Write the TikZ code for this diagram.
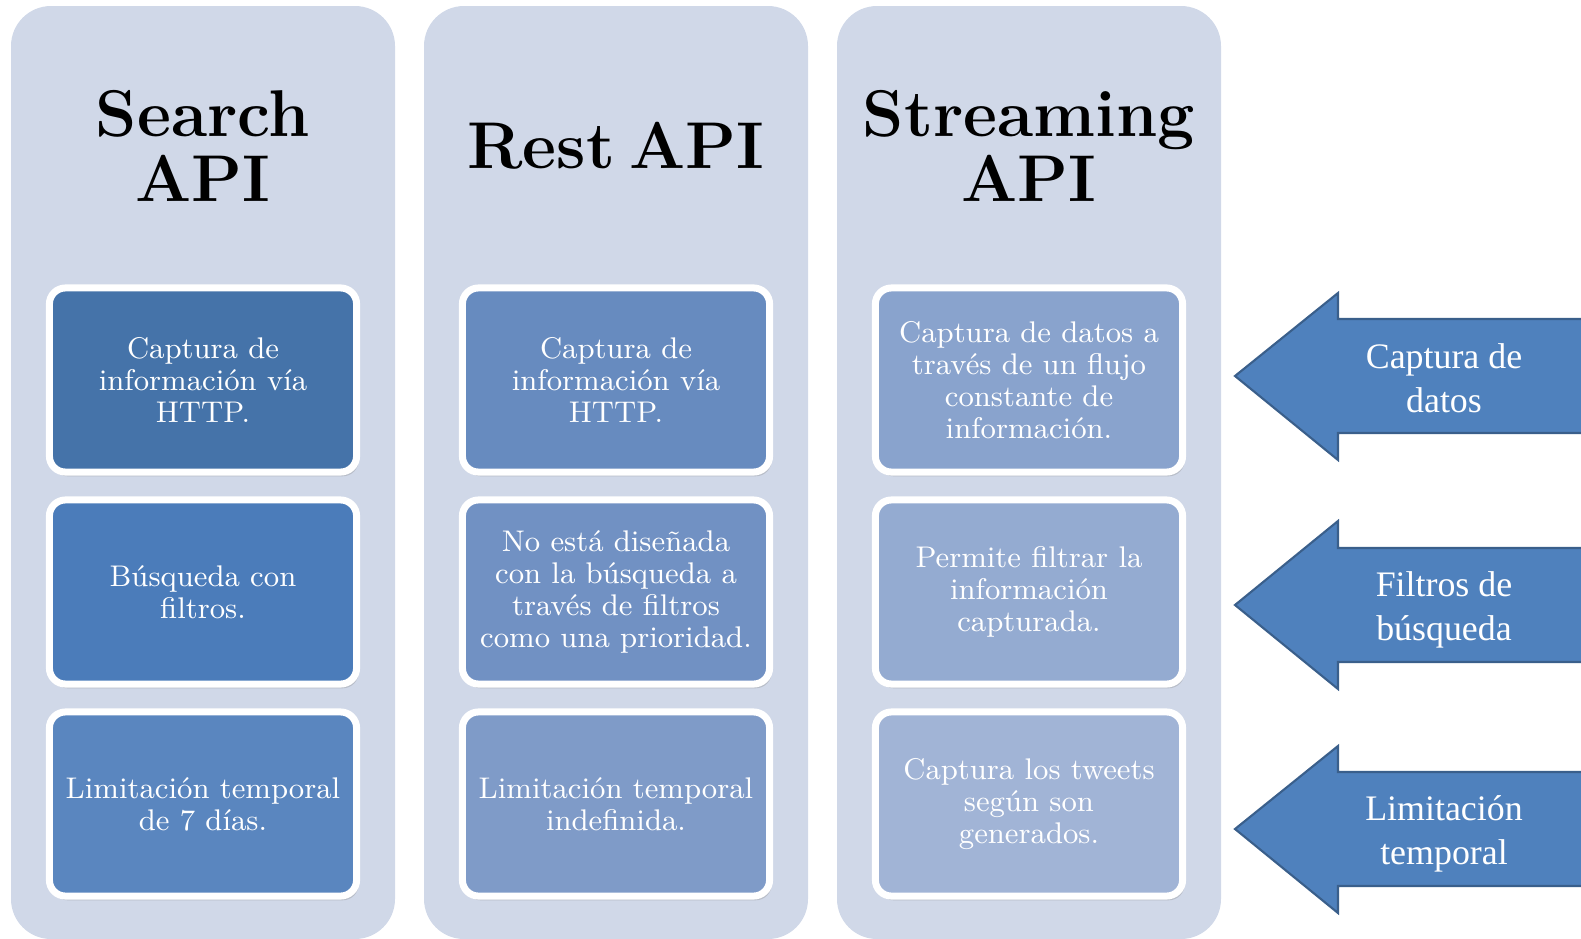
\documentclass[tikz,border=0pt]{standalone}
\usepackage{fontspec}
\usepackage{tikz}
\usetikzlibrary{shadows}
\newfontfamily\arrowfont{Liberation Serif}
\definecolor{colbg}{HTML}{D0D8E8}
\definecolor{arrowfill}{HTML}{4F81BD}
\definecolor{arrowline}{HTML}{3A5F8B}
\definecolor{boxA}{HTML}{4573A9}
\definecolor{boxB}{HTML}{4B7CBA}
\definecolor{boxC}{HTML}{5A86BF}
\definecolor{boxD}{HTML}{678BBF}
\definecolor{boxE}{HTML}{7191C3}
\definecolor{boxF}{HTML}{7F9BC8}
\definecolor{boxG}{HTML}{89A3CD}
\definecolor{boxH}{HTML}{94ABD1}
\definecolor{boxI}{HTML}{A1B4D6}
\newcommand{\BoxFont}{\fontsize{8.5}{9.05}\selectfont}
\newcommand{\TitleFont}{\fontsize{18.8}{18.35}\selectfont\bfseries\spaceskip=0.22em\relax}
\newcommand{\ArrowFont}{\arrowfont\fontsize{10.2}{12.66}\selectfont}

\begin{document}
\begin{tikzpicture}[x=0.01cm,y=-0.01cm
        ,column/.style = {fill=colbg,rounded corners=0.4cm}
        ,apibox/.style = {draw=white,line width=0.07cm,rounded corners=0.16cm,
            minimum width=3.07cm,minimum height=1.84cm,text=white,align=center,
            font=\BoxFont,drop shadow={shadow xshift=0.6pt,shadow yshift=-1.2pt,opacity=0.3}}
        ,title/.style = {align=center,font=\TitleFont}
        ,bigarrow/.style = {fill=arrowfill,draw=arrowline,line width=0.6pt,line join=miter}
        ,arrowtext/.style = {text=white,align=center,font=\ArrowFont}
      ]
      \useasboundingbox (0,0) rectangle (1581,939);
      \clip (0,0) rectangle (1581,939);

      \fill[column] (11,6) rectangle (395,939);
      \fill[column] (424,6) rectangle (808,939);
      \fill[column] (837,6) rectangle (1221,939);

      \node[title,anchor=base] (searchtitle) at (203,201) {Search\\API};
      \node[title,anchor=base] (resttitle) at (616,168) {Rest API};
      \node[title,anchor=base] (streamtitle) at (1029,201) {Streaming\\API};

      \node[apibox,fill=boxA] (search1) at (203,380) {Captura de\\información vía\\HTTP.};
      \node[apibox,fill=boxB] (search2) at (203,592) {Búsqueda con\\filtros.};
      \node[apibox,fill=boxC] (search3) at (203,804) {Limitación temporal\\de 7 días.};

      \node[apibox,fill=boxD] (rest1) at (616,380) {Captura de\\información vía\\HTTP.};
      \node[apibox,fill=boxE] (rest2) at (616,592) {No está diseñada\\con la búsqueda a\\través de filtros\\como una prioridad.};
      \node[apibox,fill=boxF] (rest3) at (616,804) {Limitación temporal\\indefinida.};

      \node[apibox,fill=boxG] (stream1) at (1029,380) {Captura de datos a\\través de un flujo\\constante de\\información.};
      \node[apibox,fill=boxH] (stream2) at (1029,592) {Permite filtrar la\\información\\capturada.};
      \node[apibox,fill=boxI] (stream3) at (1029,804) {Captura los tweets\\según son\\generados.};

      \draw[bigarrow] (1235,376) -- (1338,293) -- (1338,319) -- (1620,319)
          -- (1620,433) -- (1338,433) -- (1338,460) -- cycle;
      \draw[bigarrow] (1235,605) -- (1338,521) -- (1338,548) -- (1620,548)
          -- (1620,662) -- (1338,662) -- (1338,689) -- cycle;
      \draw[bigarrow] (1235,829) -- (1338,746) -- (1338,772) -- (1620,772)
          -- (1620,886) -- (1338,886) -- (1338,913) -- cycle;

      \node[arrowtext] (captura) at (1444,378) {Captura de\\datos};
      \node[arrowtext] (filtros) at (1444,610) {Filtros de\\búsqueda};
      \node[arrowtext] (limite) at (1444,834) {Limitación\\temporal};
    \end{tikzpicture}
\end{document}
